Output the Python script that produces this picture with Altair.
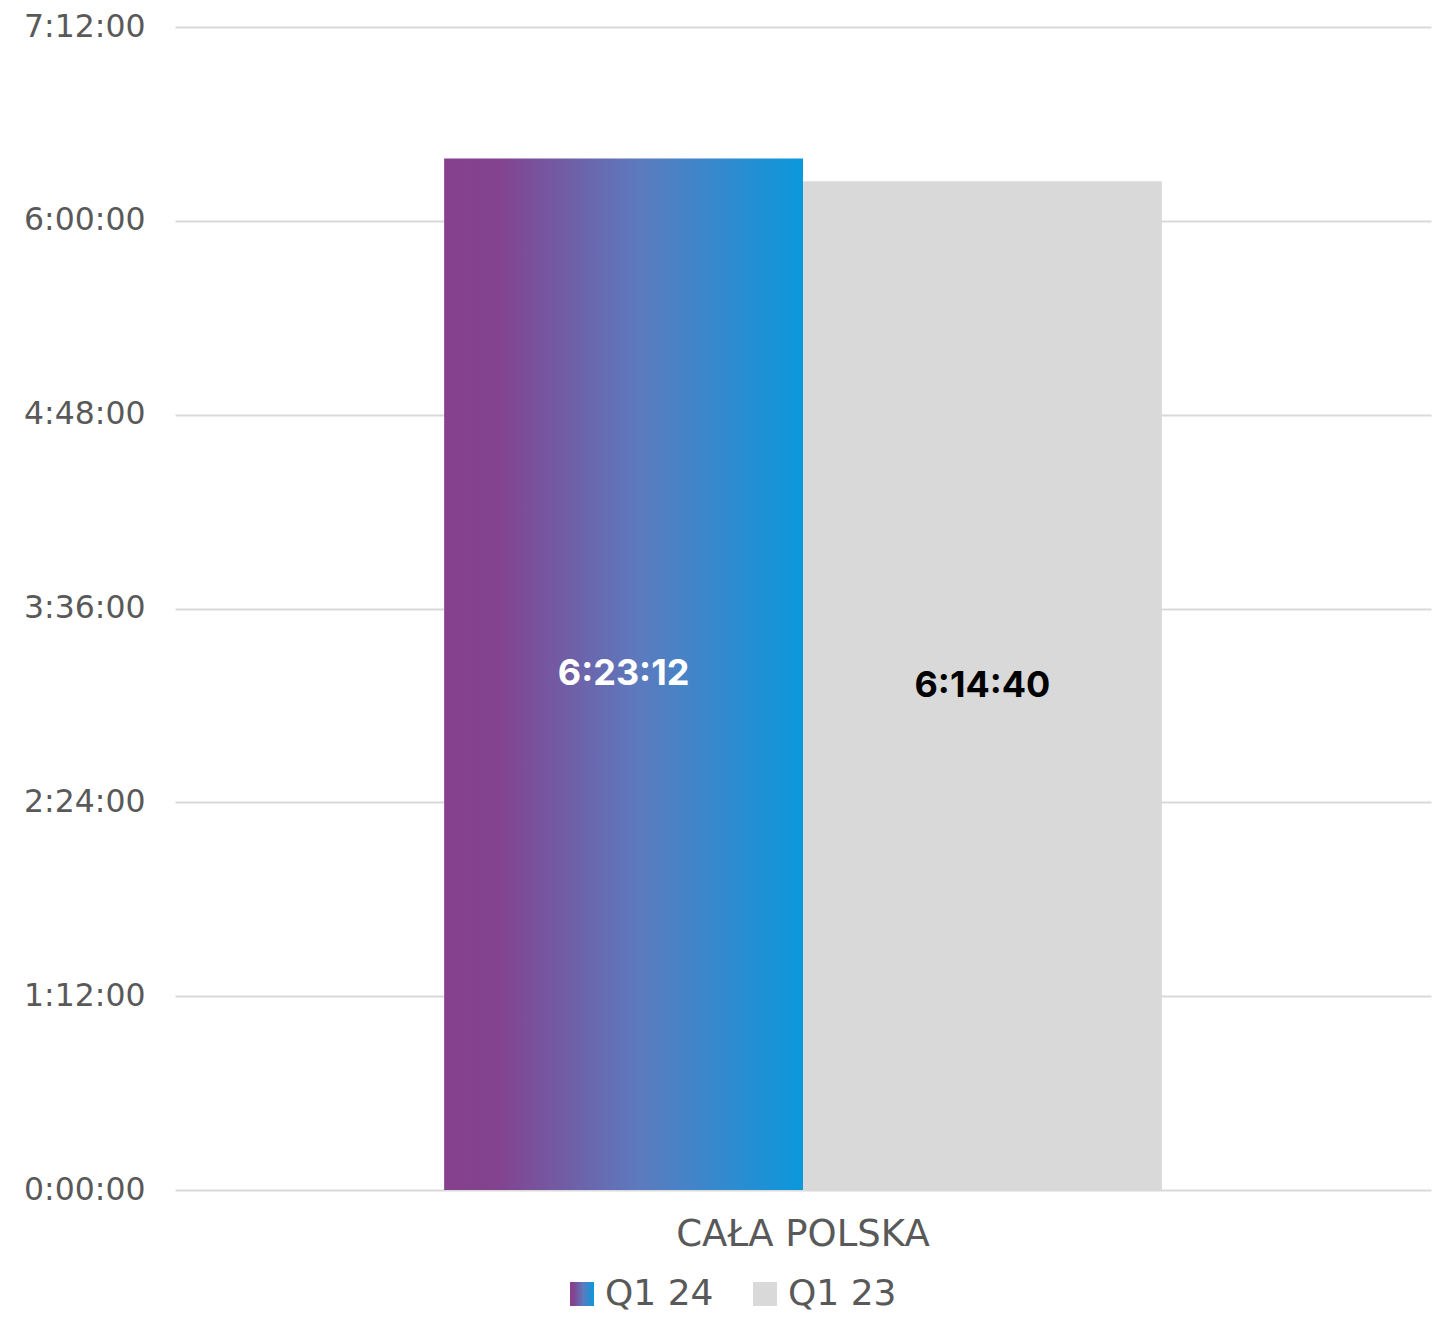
import altair as alt
import pandas as pd

# ---- data ----
categories = ["CAŁA POLSKA"]
series = ["Q1 24", "Q1 23"]
values_sec = [22992, 22480]          # 6:23:12, 6:14:40
y_ticks_sec = [0, 4320, 8640, 12960, 17280, 21600, 25920]


def fmt(s):
    return f"{s // 3600}:{(s % 3600) // 60:02d}:{s % 60:02d}"


df = pd.DataFrame({
    "category": [categories[0]] * len(series),
    "series": series,
    "value": values_sec,
    "label": [fmt(v) for v in values_sec],
})
df_leg = pd.DataFrame({"series": series})

FONT = "DejaVu Sans"
VFONT = "Inter"
GREY_TEXT = "#595959"
GRID = "#d9d9d9"

grad = alt.Gradient(
    gradient="linear",
    stops=[
        alt.GradientStop(offset=0, color="#86408d"),
        alt.GradientStop(offset=0.15, color="#83438f"),
        alt.GradientStop(offset=0.55, color="#5c7bbf"),
        alt.GradientStop(offset=1, color="#0b98dc"),
    ],
    x1=0, x2=1, y1=0, y2=0,
)

label_expr = (
    "floor(datum.value/3600) + ':' + "
    "(floor((datum.value%3600)/60) < 10 ? '0' : '') + floor((datum.value%3600)/60) + ':' + "
    "(datum.value%60 < 10 ? '0' : '') + (datum.value%60)"
)

x_enc = alt.X(
    "category:N", title=None,
    scale=alt.Scale(paddingInner=0, paddingOuter=0.375),
    axis=alt.Axis(labelFontSize=37, labelColor=GREY_TEXT, labelFont=FONT,
                  labelPadding=26, ticks=False, domain=False, labelAngle=0,
                  grid=False, labelLimit=2000),
)
xo_enc = alt.XOffset("series:N", sort=series,
                     scale=alt.Scale(paddingInner=0, paddingOuter=0))
y_scale = alt.Scale(domain=[0, 25920], nice=False, zero=True)
y_axis = alt.Axis(values=y_ticks_sec, labelExpr=label_expr, title=None,
                  labelFontSize=31.5, labelColor=GREY_TEXT, labelFont=FONT,
                  labelPadding=30, ticks=False,
                  domain=False, grid=True, gridColor=GRID, gridWidth=2)

base = alt.Chart(df)

bar_24 = base.transform_filter(alt.datum.series == series[0]).mark_bar(
    color=grad, cornerRadius=0
).encode(x=x_enc, xOffset=xo_enc, y=alt.Y("value:Q", scale=y_scale, axis=y_axis))

bar_23 = base.transform_filter(alt.datum.series == series[1]).mark_bar(
    color="#d9d9d9", cornerRadius=0
).encode(x=x_enc, xOffset=xo_enc, y=alt.Y("value:Q", scale=y_scale, axis=y_axis))

txt_24 = base.transform_filter(alt.datum.series == series[0]).transform_calculate(
    mid="datum.value / 2"
).mark_text(font=VFONT, fontSize=36, fontWeight="bold", color="#ffffff",
            baseline="middle", align="center").encode(
    x=x_enc, xOffset=xo_enc, y=alt.Y("mid:Q", scale=y_scale, axis=y_axis),
    text="label:N")

txt_23 = base.transform_filter(alt.datum.series == series[1]).transform_calculate(
    mid="datum.value / 2"
).mark_text(font=VFONT, fontSize=36, fontWeight="bold", color="#000000",
            baseline="middle", align="center").encode(
    x=x_enc, xOffset=xo_enc, y=alt.Y("mid:Q", scale=y_scale, axis=y_axis),
    text="label:N")

main = alt.layer(bar_24, bar_23, txt_24, txt_23)

# ---- legend (drawn as marks so the gradient swatch can be shown) ----
leg_x = alt.X("series:N", sort=series, axis=None,
              scale=alt.Scale(type="point", range=[407, 590], padding=0))
leg_base = alt.Chart(df_leg)
LEG_Y = 1267

sw_24 = leg_base.transform_filter(alt.datum.series == series[0]).mark_square(
    size=576, filled=True, opacity=1, color=grad
).encode(x=leg_x, y=alt.value(LEG_Y))
sw_23 = leg_base.transform_filter(alt.datum.series == series[1]).mark_square(
    size=576, filled=True, opacity=1, color="#d9d9d9"
).encode(x=leg_x, y=alt.value(LEG_Y))
leg_txt = leg_base.mark_text(font=FONT, fontSize=36, color=GREY_TEXT,
                             align="left", baseline="middle",
                             dx=23).encode(
    x=leg_x, y=alt.value(LEG_Y), text="series:N")

legend = alt.layer(sw_24, sw_23, leg_txt)

chart = alt.layer(main, legend).resolve_scale(x="independent").properties(
    width=1256, height=1163,
    autosize=alt.AutoSizeParams(type="none"),
    padding={"left": 167, "top": 19, "right": 2, "bottom": 123},
    background="#ffffff",
).configure_view(stroke=None)

chart.save("out.html", embed_options={"renderer": "svg", "actions": False})
